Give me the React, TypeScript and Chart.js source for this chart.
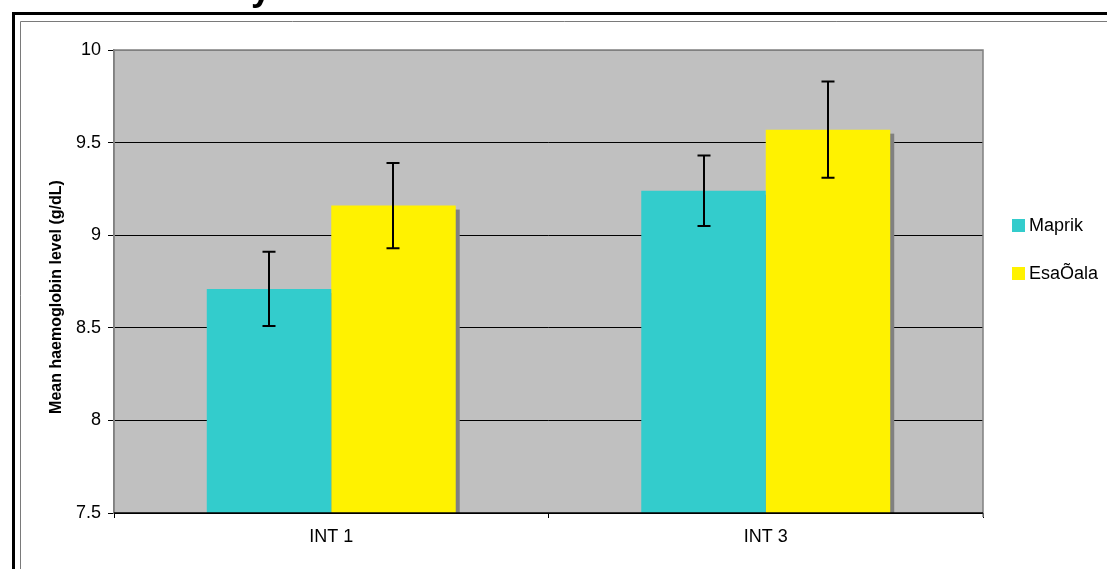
import React, { useEffect, useRef } from "react";
import { Chart, registerables } from "chart.js";

Chart.register(...registerables);

const categories = ["INT 1", "INT 3"];
const seriesNames = ["Maprik", "EsaÕala"];
const maprikValues = [8.71, 9.24];
const esaoalaValues = [9.16, 9.57];
const maprikErrors = [0.2, 0.19];
const esaoalaErrors = [0.23, 0.26];
const yTicks = [7.5, 8, 8.5, 9, 9.5, 10];
const yTitle = "Mean haemoglobin level (g/dL)";
const titleFragment = "y";

const FONT = "'Liberation Sans', Arial, sans-serif";
const COLORS = ["#33CCCC", "#FFF200"];

const decorPlugin = {
  id: "decor",
  beforeDraw(chart: any) {
    const { ctx, chartArea: a, width, height } = chart;
    ctx.save();
    ctx.fillStyle = "#ffffff";
    ctx.fillRect(0, 0, width, height);
    // outer frame
    ctx.strokeStyle = "#000";
    ctx.lineWidth = 3;
    ctx.beginPath();
    ctx.moveTo(13.5, height + 5);
    ctx.lineTo(13.5, 13.5);
    ctx.lineTo(width + 5, 13.5);
    ctx.stroke();
    ctx.strokeStyle = "#7a7a7a";
    ctx.lineWidth = 1;
    ctx.beginPath();
    ctx.moveTo(20.5, height + 5);
    ctx.lineTo(20.5, 21.5);
    ctx.lineTo(width + 5, 21.5);
    ctx.stroke();
    // title fragment
    ctx.fillStyle = "#000";
    ctx.font = `bold 36px ${FONT}`;
    ctx.textBaseline = "alphabetic";
    ctx.textAlign = "left";
    ctx.fillText(titleFragment, 251, 0);
    // plot background
    ctx.fillStyle = "#C0C0C0";
    ctx.fillRect(a.left, a.top, a.right - a.left, a.bottom - a.top);
    ctx.restore();
  },
  beforeDatasetsDraw(chart: any) {
    const { ctx, chartArea: a } = chart;
    ctx.save();
    // plot border (gray)
    ctx.strokeStyle = "#808080";
    ctx.lineWidth = 1.5;
    ctx.beginPath();
    ctx.moveTo(a.left, a.bottom);
    ctx.lineTo(a.left, a.top);
    ctx.lineTo(a.right, a.top);
    ctx.lineTo(a.right, a.bottom + 4);
    ctx.stroke();
    // bar shadows
    ctx.beginPath();
    ctx.rect(a.left, a.top, a.right - a.left, a.bottom - a.top);
    ctx.clip();
    ctx.fillStyle = "#808080";
    chart.data.datasets.forEach((_: any, di: number) => {
      const meta = chart.getDatasetMeta(di);
      meta.data.forEach((el: any) => {
        const x = el.x;
        const y = el.y;
        const w = el.width;
        ctx.fillRect(x - w / 2 + 4, y + 4, w, a.bottom - y - 4);
      });
    });
    ctx.restore();
  },
  afterDatasetsDraw(chart: any) {
    const { ctx, chartArea: a } = chart;
    const yScale = chart.scales.y;
    const errs = [maprikErrors, esaoalaErrors];
    ctx.save();
    // bottom axis line
    ctx.strokeStyle = "#000";
    ctx.lineWidth = 1.5;
    ctx.beginPath();
    ctx.moveTo(a.left, a.bottom);
    ctx.lineTo(a.right, a.bottom);
    ctx.stroke();
    // error bars
    ctx.lineWidth = 2;
    chart.data.datasets.forEach((ds: any, di: number) => {
      const meta = chart.getDatasetMeta(di);
      meta.data.forEach((el: any, i: number) => {
        const v = ds.data[i];
        const e = errs[di][i];
        const x = Math.round(el.x);
        const yt = yScale.getPixelForValue(v + e);
        const yb = yScale.getPixelForValue(v - e);
        ctx.beginPath();
        ctx.moveTo(x, yt);
        ctx.lineTo(x, yb);
        ctx.moveTo(x - 6.5, yt);
        ctx.lineTo(x + 6.5, yt);
        ctx.moveTo(x - 6.5, yb);
        ctx.lineTo(x + 6.5, yb);
        ctx.stroke();
      });
    });
    // y axis title
    ctx.fillStyle = "#000";
    ctx.font = `bold 16px ${FONT}`;
    ctx.textAlign = "center";
    ctx.textBaseline = "middle";
    ctx.translate(57, 297);
    ctx.rotate(-Math.PI / 2);
    ctx.fillText(yTitle, 0, 0);
    ctx.restore();
    // legend
    ctx.save();
    ctx.font = `18px ${FONT}`;
    ctx.textAlign = "left";
    ctx.textBaseline = "middle";
    const legendY = [225.5, 273.5];
    chart.data.datasets.forEach((ds: any, di: number) => {
      const cy = legendY[di];
      ctx.fillStyle = ds.backgroundColor;
      ctx.fillRect(1012, cy - 6.5, 13, 13);
      ctx.fillStyle = "#000";
      ctx.fillText(ds.label, 1029, cy + 1);
    });
    ctx.restore();
  },
};

export default function App() {
  const ref = useRef<HTMLCanvasElement | null>(null);
  useEffect(() => {
    if (!ref.current) return;
    const chart = new Chart(ref.current, {
      type: "bar",
      data: {
        labels: categories,
        datasets: [
          { label: seriesNames[0], data: maprikValues, backgroundColor: COLORS[0], borderWidth: 0 },
          { label: seriesNames[1], data: esaoalaValues, backgroundColor: COLORS[1], borderWidth: 0 },
        ],
      },
      options: {
        responsive: false,
        animation: false,
        devicePixelRatio: 1,
        layout: { padding: { top: 50, right: 124, left: 0, bottom: 0 } },
        datasets: { bar: { categoryPercentage: 0.573, barPercentage: 1 } },
        plugins: { legend: { display: false }, tooltip: { enabled: false } },
        scales: {
          x: {
            afterFit: (s: any) => { s.height = 56; },
            grid: { display: true, drawOnChartArea: false, drawTicks: true, tickLength: 5, color: "#000", offset: true },
            border: { display: false },
            ticks: { color: "#000", font: { family: FONT, size: 18 }, padding: 8 },
          },
          y: {
            min: 7.5,
            max: 10,
            afterFit: (s: any) => { s.width = 114; },
            afterBuildTicks: (s: any) => { s.ticks = yTicks.map((v) => ({ value: v })); },
            grid: {
              color: (c: any) => (c.tick && c.tick.value === 10 ? "#808080" : "#000"),
              tickColor: "#000",
              tickLength: 6,
              lineWidth: 1,
            },
            border: { display: true, color: "#808080", width: 1.5 },
            ticks: { color: "#000", font: { family: FONT, size: 18 }, padding: 7, callback: (v: any) => String(v) },
          },
        },
      },
      plugins: [decorPlugin],
    });
    return () => chart.destroy();
  }, []);
  return (
    <div style={{ position: "absolute", left: 0, top: 0, width: 1107, height: 569 }}>
      <canvas ref={ref} width={1107} height={569} />
    </div>
  );
}
